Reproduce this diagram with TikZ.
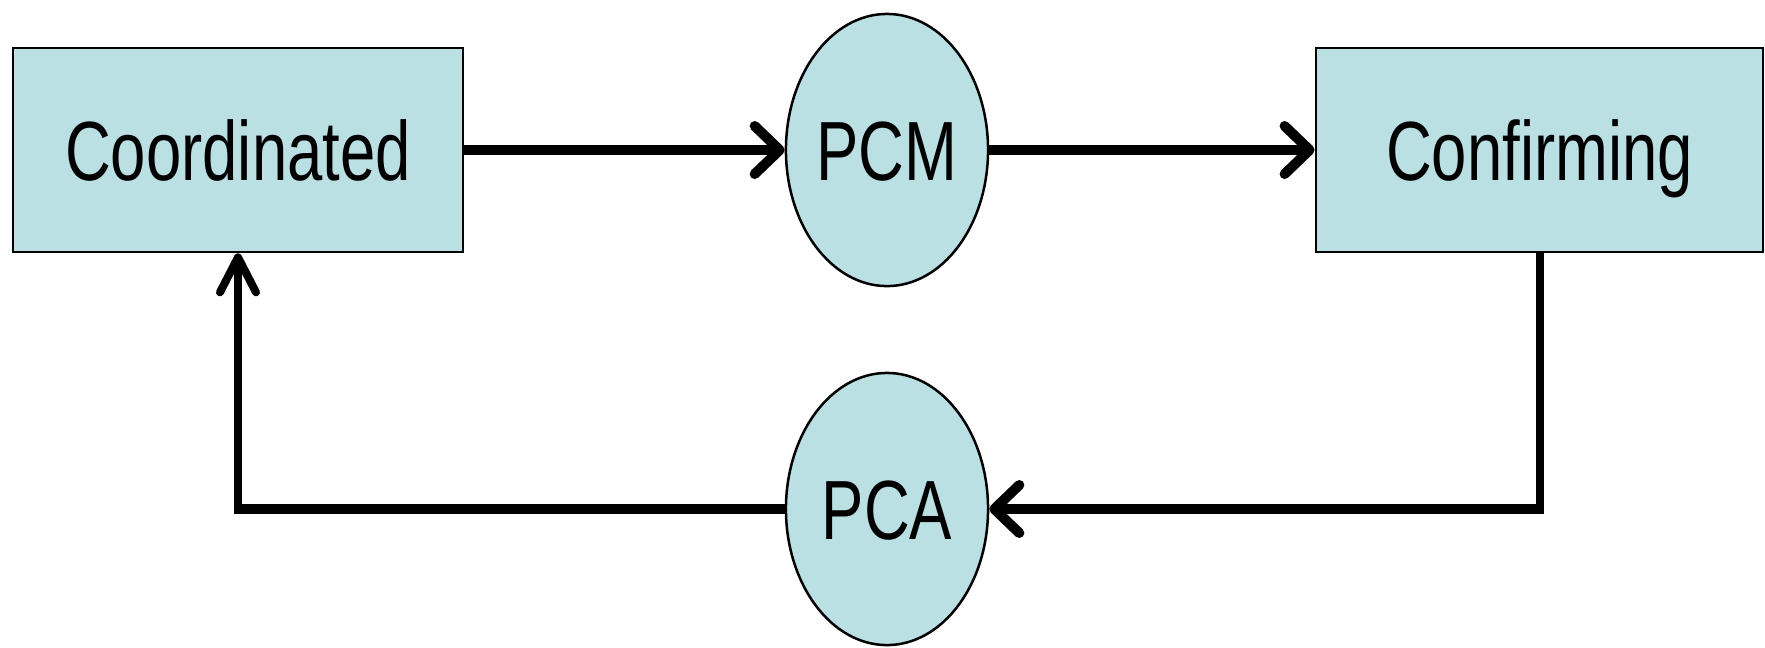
\documentclass[tikz,border=0pt]{standalone}
\usepackage{fontspec}
\setmainfont{Liberation Sans}
\usepackage{graphicx}
\usetikzlibrary{arrows.meta,shapes.geometric}
\definecolor{boxfill}{RGB}{186,224,227}
\newcommand{\narrowtxt}[1]{\scalebox{0.755}[1]{#1}}
\begin{document}
\begin{tikzpicture}[x=0.01cm,y=-0.01cm,
  shapebase/.style={draw=black, line width=0.025cm, fill=boxfill, inner sep=0pt,
    text height=0.6cm, text depth=0pt, font=\fontsize{23.9pt}{28pt}\selectfont},
  statebox/.style={shapebase, rectangle, minimum height=2.04cm},
  msgoval/.style={shapebase, ellipse, minimum width=2.02cm, minimum height=2.72cm},
  hbar/.style={line width=0.1cm, black},
  vbar/.style={line width=0.08cm, black},
  htip/.style={-{Straight Barb[round,length=0.25cm,width=0.48cm]}},
  vtip/.style={-{Straight Barb[round,length=0.35cm,width=0.36cm]}}
]
\useasboundingbox (0,0) rectangle (1765,647);
\node[statebox, minimum width=4.5cm] (coord) at (238,150) {\narrowtxt{Coordinated}};
\node[statebox, minimum width=4.47cm] (conf) at (1539.5,150) {\narrowtxt{Confirming}};
\node[msgoval] (pcm) at (887,150) {\narrowtxt{PCM}};
\node[msgoval] (pca) at (887,509) {\narrowtxt{PCA}};
\coordinate (cr) at (1540,509);
\coordinate (cl) at (238,509);
\draw[hbar, htip] (coord.east) -- (pcm.west);
\draw[hbar, htip] (pcm.east) -- (conf.west);
\draw[vbar] (conf.south -| cr) -- ([yshift=-0.05cm]cr);
\draw[hbar, htip] ([xshift=0.04cm]cr) -- (pca.east);
\draw[hbar] (pca.west) -- ([xshift=-0.04cm]cl);
\draw[vbar, vtip] ([yshift=-0.05cm]cl) -- (coord.south);
\end{tikzpicture}
\end{document}
